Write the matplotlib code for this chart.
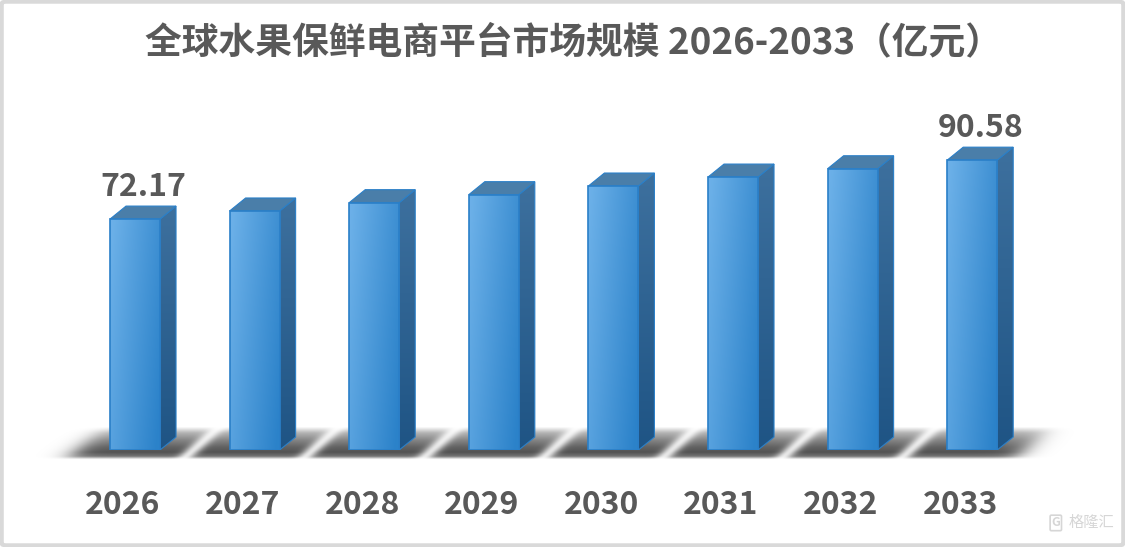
import matplotlib.pyplot as plt
import numpy as np
from matplotlib.patches import Rectangle, Polygon, FancyBboxPatch

plt.rcParams['font.family'] = ['Noto Sans CJK SC', 'DejaVu Sans']

# data
years = ['2026', '2027', '2028', '2029', '2030', '2031', '2032', '2033']
values = [72.17, 74.7, 77.3, 79.8, 82.5, 85.3, 87.9, 90.58]
labelled = [0, 7]
title = '全球水果保鲜电商平台市场规模 2026-2033（亿元）'

text_col = '#595959'
w = 0.418      # front face width
dx = 0.134     # depth offset (x)
dy = 4.06      # depth offset (y)

fig = plt.figure(figsize=(11.25, 5.47), dpi=100)
ax = fig.add_axes([0.0509, 0.1773, 0.893, 0.7137])
ax.set_xlim(-0.65, 7.75)
ax.set_ylim(0, 122)
ax.axis('off')

x = np.arange(len(values))
n = len(values)

# floor shadow (sheared band with light streaks between the bars)
gx = np.linspace(-0.9, 7.95, 1000)
gy = np.linspace(-3.0, 8.0, 140)
X, Y = np.meshgrid(gx, gy)
Xs = X - 0.03 * (Y + 2.2)
sig = lambda t: 1 / (1 + np.exp(-t))
streak = np.zeros_like(X)
for i in range(n - 1):
    streak += np.exp(-((Xs - (i + 0.42)) / 0.07) ** 2)
streak = np.clip(streak, 0, 1)
p = Y * 3.2
base = np.interp(p, [-9, -6, -2, 3, 10, 17, 23], [0, 0.55, 0.68, 0.62, 0.48, 0.3, 0])
ends = sig((Xs + 0.55) / 0.06) * sig((7.37 - Xs) / 0.06)
alpha = base * (1 - 0.85 * streak) * ends
rgba = np.zeros(X.shape + (4,))
rgba[..., 3] = alpha
ax.imshow(rgba, extent=(gx[0], gx[-1], gy[0], gy[-1]), origin='lower',
          aspect='auto', zorder=1, clip_on=False, interpolation='bilinear')

# 3d-ish bars
c_light = np.array([0.42, 0.69, 0.91])
c_dark = np.array([0.17, 0.51, 0.79])
s_top = np.array([0.24, 0.44, 0.62])
s_bot = np.array([0.12, 0.33, 0.52])
edge = '#2a7fc8'

for i, v in zip(x, values):
    l, r = i - w / 2, i + w / 2
    # side face
    side = Polygon([(r, 0), (r + dx, dy), (r + dx, v + dy), (r, v)], closed=True,
                   facecolor='none', edgecolor='none', zorder=3)
    ax.add_patch(side)
    sg = np.linspace(0, 1, 100)[:, None, None] * np.ones((1, 2, 1))
    simg = s_bot * (1 - sg) + s_top * sg
    im = ax.imshow(simg, extent=(r, r + dx, 0, v + dy), origin='lower',
                   aspect='auto', zorder=3)
    im.set_clip_path(side)
    ax.add_patch(Polygon([(r, 0), (r + dx, dy), (r + dx, v + dy), (r, v)], closed=True,
                         facecolor='none', edgecolor=edge, lw=0.8, zorder=4))
    # top face
    ax.add_patch(Polygon([(l, v), (l + dx, v + dy), (r + dx, v + dy), (r, v)], closed=True,
                         facecolor='#4a7ea9', edgecolor=edge, lw=0.8, zorder=4))
    # front face with gradient
    front = Rectangle((l, 0), w, v, facecolor='none', edgecolor='none', zorder=5)
    ax.add_patch(front)
    u = np.linspace(0, 1, 60)[None, :]
    h = np.linspace(0, 1, 100)[:, None]
    t = np.clip(0.75 * u + 0.35 * (1 - h) - 0.05, 0, 1)[..., None]
    fimg = c_light * (1 - t) + c_dark * t
    im = ax.imshow(fimg, extent=(l, r, 0, v), origin='lower', aspect='auto', zorder=5)
    im.set_clip_path(front)
    ax.add_patch(Rectangle((l, 0), w, v, facecolor='none', edgecolor=edge, lw=1.2, zorder=6))

for i in labelled:
    ax.text(x[i] + dx / 2, values[i] + dy + 3.3, f'{values[i]:.2f}', ha='center',
            va='baseline', fontsize=23, fontweight='bold', color=text_col, zorder=7)

for i, yr in enumerate(years):
    ax.text(x[i] - 0.1, -17.2, yr, ha='center', va='center', fontsize=23,
            fontweight='bold', color=text_col)

fig.text(0.510, 1 - 43 / 547, title, ha='center', va='center', fontsize=26.5,
         fontweight='bold', color=text_col)

# watermark
fig.text(0.970, 0.044, '格隆汇', ha='center', va='center', fontsize=11,
         color='#d6d6d6')
fig.text(0.9385, 0.044, 'G', ha='center', va='center', fontsize=9, fontweight='bold',
         color='#d6d6d6',
         bbox=dict(boxstyle='round,pad=0.1', fc='none', ec='#d6d6d6', lw=1.2))

# outer border
fig.patches.append(FancyBboxPatch((0.0015, 0.003), 0.997, 0.994,
                                  boxstyle='round,pad=0,rounding_size=0.004',
                                  transform=fig.transFigure, fc='none',
                                  ec='#d9d9d9', lw=3))

fig.savefig('out.png', dpi=100)
